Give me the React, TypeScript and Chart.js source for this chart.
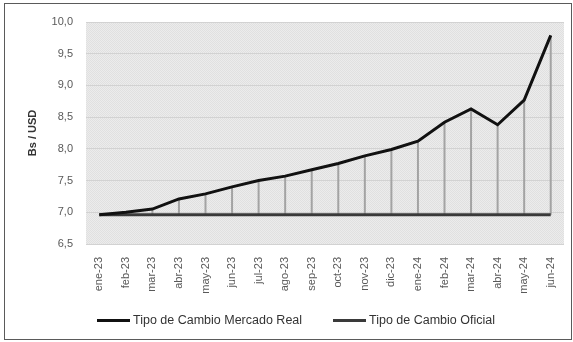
import React, { useEffect, useRef } from "react";
import { Chart, registerables } from "chart.js";

Chart.register(...registerables);

// Monthly periods, Jan 2023 – Jun 2024
const months = [
  "ene-23", "feb-23", "mar-23", "abr-23", "may-23", "jun-23", "jul-23", "ago-23", "sep-23",
  "oct-23", "nov-23", "dic-23", "ene-24", "feb-24", "mar-24", "abr-24", "may-24", "jun-24",
];

// Parallel-market exchange rate (Bs per USD)
const mercadoReal = [
  6.96, 7.0, 7.05, 7.21, 7.29, 7.4, 7.5, 7.57, 7.67,
  7.77, 7.89, 7.99, 8.12, 8.42, 8.63, 8.38, 8.77, 9.79,
];

// Official exchange rate (Bs per USD)
const oficial = [
  6.96, 6.96, 6.96, 6.96, 6.96, 6.96, 6.96, 6.96, 6.96,
  6.96, 6.96, 6.96, 6.96, 6.96, 6.96, 6.96, 6.96, 6.96,
];

const yMin = 6.5;
const yMax = 10;
const yStep = 0.5;

const legendItems = [
  { label: "Tipo de Cambio Mercado Real", color: "#111111", left: 97 },
  { label: "Tipo de Cambio Oficial", color: "#3a3a3a", left: 333 },
];

const fmt = (v: number) => v.toFixed(1).replace(".", ",");

function makePattern(ctx: CanvasRenderingContext2D) {
  const c = document.createElement("canvas");
  c.width = 2;
  c.height = 2;
  const p = c.getContext("2d")!;
  p.fillStyle = "#ececec";
  p.fillRect(0, 0, 2, 2);
  p.fillStyle = "#e0e0e0";
  p.fillRect(0, 0, 1, 1);
  p.fillRect(1, 1, 1, 1);
  return ctx.createPattern(c, "repeat")!;
}

// Shaded plot area behind the grid
const plotBackground = {
  id: "plotBackground",
  beforeDraw(chart: any) {
    const { ctx, chartArea } = chart;
    if (!chartArea) return;
    ctx.save();
    ctx.fillStyle = makePattern(ctx);
    ctx.fillRect(chartArea.left, chartArea.top, chartArea.right - chartArea.left, chartArea.bottom - chartArea.top);
    ctx.restore();
  },
};

// Vertical drop lines between the two series at each month
const dropLines = {
  id: "dropLines",
  beforeDatasetsDraw(chart: any) {
    const { ctx } = chart;
    const xs = chart.scales.x;
    const ys = chart.scales.y;
    ctx.save();
    ctx.strokeStyle = "#a3a3a3";
    ctx.lineWidth = 2;
    months.forEach((_, i) => {
      const x = xs.getPixelForValue(i);
      const y1 = ys.getPixelForValue(mercadoReal[i]);
      const y2 = ys.getPixelForValue(oficial[i]);
      if (Math.abs(y2 - y1) < 1) return;
      ctx.beginPath();
      ctx.moveTo(x, y1);
      ctx.lineTo(x, y2);
      ctx.stroke();
    });
    ctx.restore();
  },
};

export default function App() {
  const canvasRef = useRef<HTMLCanvasElement | null>(null);

  useEffect(() => {
    const canvas = canvasRef.current;
    if (!canvas) return;
    const chart = new Chart(canvas, {
      type: "line",
      data: {
        labels: months,
        datasets: [
          {
            label: legendItems[0].label,
            data: mercadoReal,
            borderColor: legendItems[0].color,
            backgroundColor: legendItems[0].color,
            borderWidth: 3,
            pointRadius: 0,
            tension: 0,
          },
          {
            label: legendItems[1].label,
            data: oficial,
            borderColor: legendItems[1].color,
            backgroundColor: legendItems[1].color,
            borderWidth: 3,
            pointRadius: 0,
            tension: 0,
          },
        ],
      },
      options: {
        responsive: false,
        animation: false,
        devicePixelRatio: 1,
        layout: { padding: { left: 24, right: 9, top: 22, bottom: 48 } },
        plugins: {
          legend: { display: false },
          tooltip: { enabled: false },
        },
        scales: {
          x: {
            offset: true,
            grid: { display: false },
            border: { display: false },
            ticks: {
              color: "#595959",
              font: { family: "Liberation Sans", size: 11 },
              minRotation: 90,
              maxRotation: 90,
              padding: 5,
              autoSkip: false,
            },
            afterFit: (scale: any) => {
              scale.height = 50;
            },
          },
          y: {
            min: yMin,
            max: yMax,
            grid: { color: "#d2d2d2", lineWidth: 1, drawTicks: false },
            border: { display: false },
            ticks: {
              stepSize: yStep,
              color: "#595959",
              font: { family: "Liberation Sans", size: 11 },
              padding: 13,
              callback: (v: any) => fmt(Number(v)),
            },
            title: {
              display: true,
              text: "Bs / USD",
              color: "#333333",
              font: { family: "Liberation Sans", size: 11, weight: "bold" },
              padding: { top: 2, bottom: 0 },
            },
            afterFit: (scale: any) => {
              scale.width = 62;
            },
          },
        },
      },
      plugins: [plotBackground, dropLines],
    });
    return () => chart.destroy();
  }, []);

  return (
    <div style={{ position: "absolute", left: 0, top: 0, width: 573, height: 342, background: "#ffffff", overflow: "hidden" }}>
      <div
        style={{
          position: "absolute",
          left: 4,
          top: 3,
          width: 566,
          height: 335,
          border: "1.5px solid #5a5a5a",
        }}
      />
      <canvas ref={canvasRef} width={573} height={342} style={{ position: "absolute", left: 0, top: 0 }} />
      {legendItems.map((it) => (
        <div
          key={it.label}
          style={{
            position: "absolute",
            left: it.left,
            top: 312,
            height: 16,
            display: "flex",
            alignItems: "center",
            fontFamily: "Liberation Sans",
            fontSize: 12.5,
            color: "#333333",
            whiteSpace: "nowrap",
          }}
        >
          <span style={{ display: "inline-block", width: 33, height: 3, background: it.color, marginRight: 3 }} />
          <span>{it.label}</span>
        </div>
      ))}
    </div>
  );
}
